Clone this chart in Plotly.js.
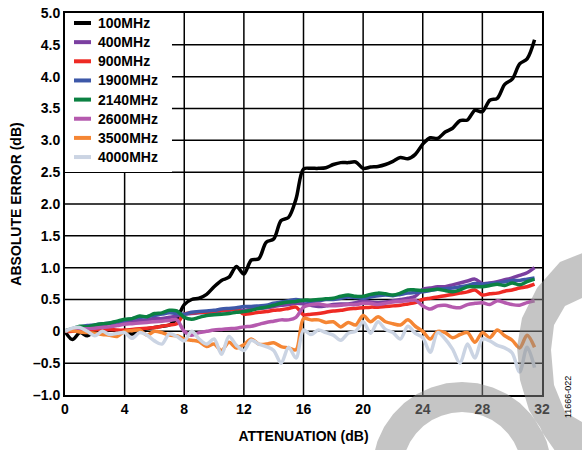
<!DOCTYPE html>
<html>
<head>
<meta charset="utf-8">
<script src="https://cdn.plot.ly/plotly-3.0.1.min.js"></script>
<style>html,body{margin:0;padding:0;background:#fff;}#chart{width:582px;height:450px;}</style>
</head>
<body>
<div id="chart"></div>
<script>
// Attenuation (dB), 0.5 dB steps
const attenuation = [0,0.5,1,1.5,2,2.5,3,3.5,4,4.5,5,5.5,6,6.5,7,7.5,8,8.5,9,9.5,10,10.5,11,11.5,12,12.5,13,13.5,14,14.5,15,15.5,16,16.5,17,17.5,18,18.5,19,19.5,20,20.5,21,21.5,22,22.5,23,23.5,24,24.5,25,25.5,26,26.5,27,27.5,28,28.5,29,29.5,30,30.5,31,31.5];

const err100 = [0,-0.13,-0.02,-0.07,0.0,0.01,0.02,0.01,-0.01,-0.04,0.0,0.04,0.06,0.08,0.1,0.2,0.42,0.5,0.52,0.58,0.7,0.8,0.85,1.02,0.9,1.12,1.14,1.4,1.45,1.74,1.79,2.08,2.55,2.56,2.56,2.57,2.62,2.65,2.65,2.66,2.56,2.58,2.59,2.62,2.67,2.73,2.71,2.78,2.94,3.04,3.03,3.13,3.19,3.31,3.32,3.47,3.45,3.63,3.66,3.88,3.96,4.2,4.28,4.58];
const err400 = [0,0.02,0.05,0.06,0.08,0.1,0.12,0.12,0.14,0.16,0.17,0.18,0.2,0.2,0.22,0.24,0.27,0.28,0.29,0.3,0.3,0.32,0.33,0.34,0.33,0.35,0.36,0.37,0.39,0.41,0.42,0.44,0.43,0.41,0.39,0.4,0.42,0.43,0.43,0.45,0.48,0.46,0.45,0.46,0.48,0.5,0.52,0.55,0.66,0.68,0.7,0.7,0.73,0.76,0.79,0.82,0.75,0.76,0.78,0.81,0.84,0.88,0.92,1.0];
const err900 = [0,0.0,0.02,0.02,0.03,0.02,0.03,0.02,0.02,0.03,0.04,0.05,0.06,0.08,0.1,0.12,0.27,0.29,0.3,0.3,0.32,0.33,0.34,0.35,0.27,0.28,0.3,0.31,0.33,0.34,0.36,0.38,0.26,0.27,0.28,0.3,0.32,0.33,0.35,0.36,0.37,0.38,0.38,0.39,0.4,0.41,0.43,0.45,0.5,0.52,0.54,0.56,0.58,0.6,0.62,0.65,0.57,0.59,0.6,0.63,0.65,0.68,0.7,0.74];
const err1900 = [0,0.03,0.07,0.09,0.1,0.12,0.13,0.15,0.17,0.2,0.22,0.23,0.25,0.27,0.29,0.28,0.27,0.3,0.31,0.32,0.33,0.35,0.36,0.37,0.39,0.39,0.4,0.41,0.44,0.46,0.48,0.5,0.48,0.47,0.48,0.5,0.5,0.52,0.54,0.53,0.52,0.54,0.56,0.57,0.56,0.58,0.6,0.61,0.62,0.64,0.66,0.67,0.68,0.7,0.72,0.75,0.74,0.75,0.76,0.78,0.8,0.8,0.82,0.84];
const err2140 = [0.01,0.04,0.08,0.07,0.1,0.12,0.13,0.16,0.19,0.2,0.24,0.23,0.28,0.29,0.33,0.32,0.22,0.19,0.22,0.25,0.26,0.27,0.28,0.3,0.31,0.33,0.36,0.38,0.41,0.44,0.46,0.47,0.49,0.49,0.5,0.51,0.52,0.55,0.57,0.55,0.55,0.58,0.6,0.59,0.57,0.6,0.65,0.65,0.64,0.65,0.66,0.64,0.62,0.65,0.7,0.7,0.7,0.72,0.74,0.72,0.76,0.73,0.78,0.82];
const err2600 = [0.01,0.02,0.04,0.04,0.05,0.06,0.07,0.09,0.11,0.12,0.13,0.14,0.15,0.16,0.17,0.18,0.0,-0.06,-0.02,0.0,0.02,0.03,0.04,0.05,0.07,0.08,0.11,0.14,0.16,0.18,0.18,0.22,0.38,0.42,0.43,0.41,0.4,0.41,0.42,0.42,0.44,0.44,0.42,0.44,0.46,0.47,0.48,0.49,0.4,0.35,0.4,0.41,0.38,0.37,0.42,0.44,0.45,0.42,0.48,0.45,0.42,0.41,0.45,0.48];
const err3500 = [0.01,0.01,-0.01,-0.02,-0.03,-0.05,-0.06,-0.08,0.0,0.01,0.02,-0.06,0.0,-0.02,-0.06,-0.07,-0.12,-0.14,-0.16,-0.24,-0.2,-0.3,-0.17,-0.26,-0.21,-0.12,-0.2,-0.2,-0.18,-0.24,-0.26,-0.29,0.2,0.18,0.18,0.14,0.15,0.07,0.14,0.1,0.25,0.15,0.23,0.15,0.12,0.1,0.18,0.08,0.0,-0.12,0.0,-0.02,-0.1,-0.05,-0.02,-0.17,-0.02,-0.1,0.02,-0.07,-0.14,-0.26,-0.06,-0.25];
const err4000 = [0.0,0.05,0.06,0.0,-0.07,0.0,-0.05,-0.03,-0.02,-0.11,-0.02,-0.06,-0.15,-0.2,-0.04,-0.08,-0.15,0.0,-0.12,-0.2,-0.12,-0.36,-0.08,-0.22,-0.3,-0.14,-0.2,-0.24,-0.3,-0.5,-0.25,-0.42,0.02,-0.05,0.02,-0.02,-0.06,-0.14,-0.03,0.0,0.15,-0.03,0.15,0.03,-0.02,-0.12,0.08,-0.03,-0.1,-0.33,-0.02,-0.12,-0.28,-0.5,-0.2,-0.42,-0.12,-0.15,-0.22,-0.26,-0.34,-0.64,-0.25,-0.57];

const seriesNames = ['100MHz','400MHz','900MHz','1900MHz','2140MHz','2600MHz','3500MHz','4000MHz'];
const seriesValues = [err100, err400, err900, err1900, err2140, err2600, err3500, err4000];
const seriesColors = ['#000000','#7B3FA0','#EE2A24','#3D58A8','#0B8142','#B55AAE','#F58634','#CBD4E3'];

const yTickVals = [-1,-0.5,0,0.5,1,1.5,2,2.5,3,3.5,4,4.5,5];
const yTickText = ['\u20131.0','\u20130.5','0','0.5','1.0','1.5','2.0','2.5','3.0','3.5','4.0','4.5','5.0'];
const xTickVals = [0,4,8,12,16,20,24,28,32];

const traces = seriesNames.map((n,i) => ({
  x: attenuation, y: seriesValues[i], name: n, type: 'scatter', mode: 'lines',
  line: {color: seriesColors[i], width: 3.5, shape: 'spline', smoothing: 0.9}
}));

// layout geometry (pixel -> paper)
const L=65, R=40, T=13, B=55, W=582, H=450;
const pw = W-L-R, ph = H-T-B;
const px = v => ((v-L)/pw).toFixed(4);
const py = v => ((H-B-v)/ph).toFixed(4);
function poly(pts){ return 'M' + pts.map(p => px(p[0])+','+py(p[1])).join(' L') + ' Z'; }
const ringOuter = [[590,250],[560,262],[537,288],[522,318],[517,347],[520,380],[529,410],[544,435],[558,455],[590,455]];
const ringInner = [[582,422],[565,412],[554,385],[551,350],[554,325],[565,306],[582,298]];
const ring = ringOuter.concat([[590,422]], ringInner, [[590,298]]);
const arch = [];
const cx=462, cy=472, ro=90, ri=60;
for (let a=180; a<=360; a+=10){ const r=a*Math.PI/180; arch.push([cx+ro*Math.cos(r), cy+ro*Math.sin(r)]); }
for (let a=360; a>=180; a-=10){ const r=a*Math.PI/180; arch.push([cx+ri*Math.cos(r), cy+ri*Math.sin(r)]); }

// grid lines as shapes (so the legend panel can mask them)
const gridShapes = [];
xTickVals.slice(1, -1).forEach(v => gridShapes.push({type: 'line', xref: 'x', yref: 'paper', x0: v, x1: v, y0: 0, y1: 1,
  line: {color: '#000', width: 1.5}, layer: 'below'}));
yTickVals.slice(1, -1).forEach(v => gridShapes.push({type: 'line', xref: 'paper', yref: 'y', x0: 0, x1: 1, y0: v, y1: v,
  line: {color: '#000', width: 1.5}, layer: 'below'}));

const fontB = {family: 'Liberation Sans, Arial, sans-serif', size: 14, color: '#000', weight: 'bold'};

// legend drawn by hand (line key + label) to match the original spacing
const legendShapes = [], legendAnn = [];
seriesNames.forEach((n, i) => {
  const yy = py(23 + 19.15*i);
  legendShapes.push({type: 'line', xref: 'paper', yref: 'paper', x0: px(74), x1: px(91), y0: yy, y1: yy,
    line: {color: seriesColors[i], width: 4}, layer: 'above'});
  legendAnn.push({text: n, xref: 'paper', yref: 'paper', x: px(96), y: yy, xanchor: 'left', yanchor: 'middle',
    showarrow: false, font: fontB});
});

const layout = {
  width: W, height: H,
  margin: {l: L, r: R, t: T, b: B, autoexpand: false},
  paper_bgcolor: '#fff', plot_bgcolor: '#fff',
  showlegend: false,
  xaxis: {range: [0, 32], tickvals: xTickVals, showgrid: false, automargin: false,
          zeroline: false, showline: true, linecolor: '#000', linewidth: 2, mirror: true,
          ticks: '', tickfont: fontB, fixedrange: true,
          title: {text: 'ATTENUATION (dB)', font: fontB, standoff: 15}},
  yaxis: {range: [-1, 5], tickvals: yTickVals, ticktext: yTickText, showgrid: false, automargin: false,
          zeroline: false, showline: true, linecolor: '#000', linewidth: 2, mirror: true,
          ticks: '', tickfont: fontB, fixedrange: true,
          title: {text: 'ABSOLUTE ERROR (dB)', font: fontB, standoff: 8}},
  shapes: gridShapes.concat([
    // white panel behind the legend hiding the grid
    {type: 'rect', xref: 'paper', yref: 'paper', x0: 0, x1: px(172), y0: py(172), y1: 1,
     fillcolor: '#fff', line: {width: 0}, layer: 'below'}
  ], legendShapes, [
    // grey watermark
    {type: 'path', xref: 'paper', yref: 'paper', path: poly(ring) + ' ' + poly(arch),
     fillcolor: 'rgb(140,140,140)', opacity: 0.5, line: {width: 0}, layer: 'above'}
  ]),
  annotations: legendAnn.concat([
    {text: '11666-022', xref: 'paper', yref: 'paper', x: (575-L)/pw, y: (H-B-420)/ph,
     showarrow: false, textangle: -90, font: {family: 'Liberation Sans, Arial, sans-serif', size: 9, color: '#000'}}
  ])
};

Plotly.newPlot('chart', traces, layout, {staticPlot: true, displayModeBar: false});
</script>
</body>
</html>
